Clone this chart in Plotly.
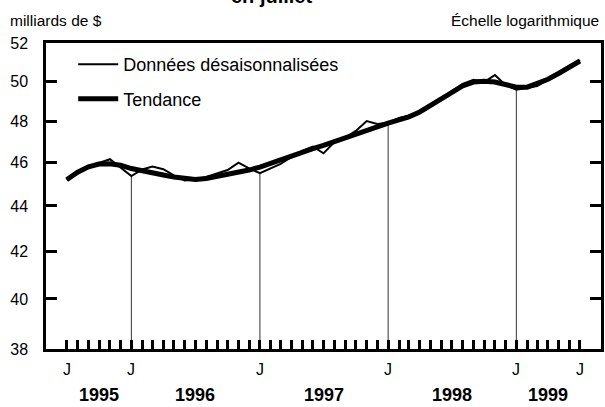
import math
import plotly.graph_objects as go
import pandas as pd

# ---- data ----
months = pd.date_range("1995-07-01", periods=49, freq="MS")
raw = [45.19, 45.50, 45.77, 45.99, 46.16, 45.75, 45.37, 45.68, 45.81, 45.69,
       45.40, 45.17, 45.21, 45.33, 45.49, 45.65, 46.00, 45.73, 45.50, 45.73,
       45.94, 46.27, 46.55, 46.76, 46.44, 46.98, 47.20, 47.52, 48.00, 47.86,
       47.92, 48.16, 48.26, 48.43, 48.75, 49.10, 49.50, 49.86, 50.07, 49.96,
       50.32, 49.81, 49.57, 49.66, 49.76, 50.07, 50.37, 50.70, 51.10]
trend = [45.20, 45.55, 45.80, 45.93, 45.95, 45.88, 45.72, 45.60, 45.50, 45.42,
         45.33, 45.25, 45.21, 45.26, 45.35, 45.46, 45.55, 45.65, 45.79, 45.94,
         46.13, 46.31, 46.50, 46.66, 46.82, 47.00, 47.20, 47.40, 47.60, 47.75,
         47.90, 48.06, 48.21, 48.45, 48.76, 49.10, 49.45, 49.76, 49.96, 50.00,
         49.96, 49.80, 49.70, 49.70, 49.86, 50.10, 50.40, 50.72, 51.05]
y_ticks = [38, 40, 42, 44, 46, 48, 50, 52]
j_ticks = ["1995-07-01", "1996-01-01", "1997-01-01", "1998-01-01", "1999-01-01", "1999-07-01"]
year_labels = ["1995", "1996", "1997", "1998", "1999"]
year_pos = ["1995-10-01", "1996-07-01", "1997-07-01", "1998-07-01", "1999-04-01"]
jan_marks = ["1996-01-01", "1997-01-01", "1998-01-01", "1999-01-01"]

FONT = "Liberation Sans, Arial, sans-serif"
fig = go.Figure()

# vertical reference lines at each January, from the axis up to the data
vx, vy = [], []
for d in jan_marks:
    val = raw[list(months).index(pd.Timestamp(d))]
    vx += [d, d, None]
    vy += [y_ticks[0], val, None]
fig.add_trace(go.Scatter(x=vx, y=vy, mode="lines", line=dict(color="#333", width=1),
                         showlegend=False, hoverinfo="skip"))

fig.add_trace(go.Scatter(x=months, y=trend, mode="lines", name="Tendance",
                         line=dict(color="black", width=5), legendrank=2,
                         legendgroup="b"))
fig.add_trace(go.Scatter(x=months, y=raw, mode="lines", name="Données désaisonnalisées",
                         line=dict(color="black", width=2), legendrank=1,
                         legendgroup="a"))

annotations = []
for d in j_ticks:
    annotations.append(dict(x=d, y=-0.068, xref="x", yref="paper", text="J",
                            showarrow=False, yanchor="middle",
                            font=dict(size=16, family=FONT, color="black")))
for t, d in zip(year_labels, year_pos):
    annotations.append(dict(x=d, y=-0.15, xref="x", yref="paper", text="<b>%s</b>" % t,
                            showarrow=False, yanchor="middle",
                            font=dict(size=18, family=FONT, color="black")))
annotations.append(dict(x=-0.068, y=1.072, xref="paper", yref="paper", text="milliards de $",
                        showarrow=False, xanchor="left", yanchor="middle",
                        font=dict(size=15.5, family=FONT, color="black")))
annotations.append(dict(x=1.0, y=1.072, xref="paper", yref="paper", text="Échelle logarithmique",
                        showarrow=False, xanchor="right", yanchor="middle",
                        font=dict(size=15.5, family=FONT, color="black")))
annotations.append(dict(x=0.407, y=1.11, xref="paper", yref="paper", text="<b>en juillet</b>",
                        showarrow=False, xanchor="center", yanchor="bottom",
                        font=dict(size=20, family=FONT, color="black")))

fig.update_layout(
    width=605, height=407,
    margin=dict(l=46, r=4, t=43, b=58, autoexpand=False),
    paper_bgcolor="white", plot_bgcolor="white",
    font=dict(family=FONT, size=16, color="black"),
    showlegend=True,
    legend=dict(x=0.049, y=0.99, xanchor="left", yanchor="top",
                bgcolor="rgba(0,0,0,0)", font=dict(size=18, family=FONT),
                tracegroupgap=8, itemwidth=40),
    annotations=annotations,
)
fig.update_xaxes(
    type="date", range=["1995-05-03", "1999-08-30"], automargin=False,
    showgrid=False, zeroline=False,
    showline=True, linecolor="black", linewidth=2.5, mirror=True,
    ticks="inside", ticklen=9, tickwidth=2.5, tickcolor="black",
    tickmode="array", tickvals=list(months), showticklabels=False,
)
fig.update_yaxes(
    type="log", range=[math.log10(38), math.log10(52)], automargin=False,
    showgrid=False, zeroline=False,
    showline=True, linecolor="black", linewidth=2.5, mirror="allticks",
    ticks="inside", ticklen=11, tickwidth=2.5, tickcolor="black",
    tickvals=y_ticks, ticktext=[str(v) for v in y_ticks],
    ticklabelstandoff=12,
    tickfont=dict(size=16, family=FONT, color="black"),
)
fig.write_html("out.html", config={"displayModeBar": False},
               post_script="document.body.style.margin='0';document.body.style.overflow='hidden';")
